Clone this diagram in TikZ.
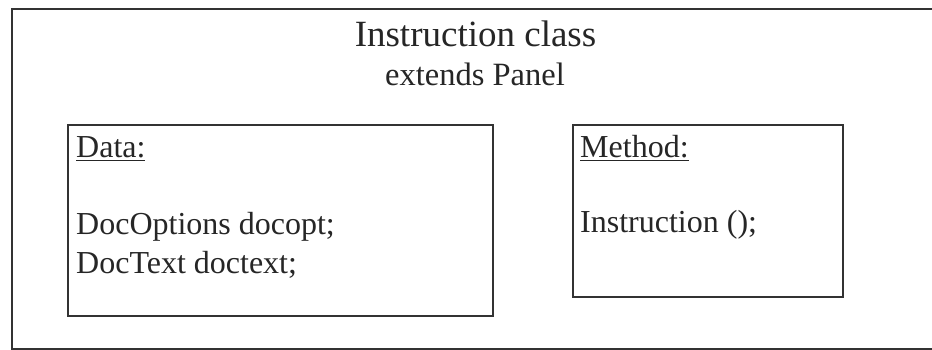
\documentclass[tikz,border=0pt]{standalone}
\usepackage{fontspec}
\setmainfont{Liberation Serif}
\begin{document}
\begin{tikzpicture}[x=1pt,y=-1pt,
  frame/.style={draw=black!80,line width=1.8pt},
  box/.style={draw=black!80,line width=1.8pt,inner sep=0pt},
  txt/.style={anchor=base west,inner sep=0pt,text=black!85,font=\fontsize{32}{38}\selectfont},
  titletxt/.style={anchor=base,inner sep=0pt,text=black!85}]
  \clip (0,0) rectangle (932,350);
  \fill[white] (0,0) rectangle (932,350);
  % outer class frame (runs past the right edge)
  \node[box,anchor=north west,minimum width=940pt,minimum height=340pt] (cls) at (11,8) {};
  % heading
  \node[titletxt,font=\fontsize{37}{44}\selectfont] (title) at (475.5,47) {Instruction class};
  \node[titletxt,font=\fontsize{32.5}{38}\selectfont] (ext) at (475,86) {extends Panel};
  % data compartment
  \node[box,anchor=north west,minimum width=425pt,minimum height=191pt] (data) at (67,124) {};
  \node[txt] (dlabel) at (76,158) {\underline{Data:}};
  \node[txt] (d1) at (76,234) {DocOptions docopt;};
  \node[txt] (d2) at (76,273) {DocText doctext;};
  % method compartment
  \node[box,anchor=north west,minimum width=270pt,minimum height=172pt] (meth) at (572,124) {};
  \node[txt] (mlabel) at (580,158) {\underline{Method:}};
  \node[txt] (m1) at (580,233) {Instruction ();};
\end{tikzpicture}
\end{document}
